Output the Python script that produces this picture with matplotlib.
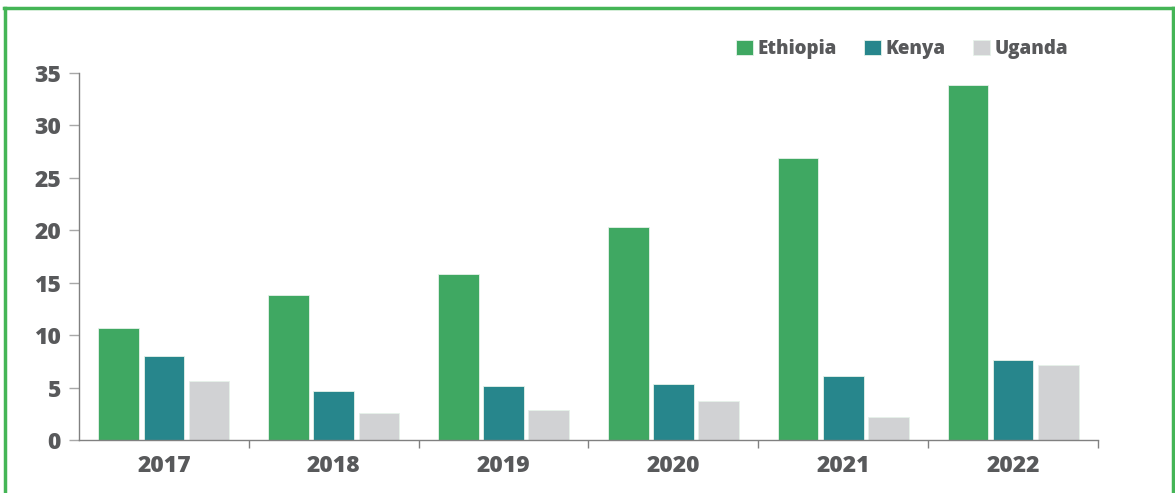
import numpy as np
import matplotlib
import matplotlib.pyplot as plt
from matplotlib.lines import Line2D

matplotlib.use('Agg')

years = ['2017', '2018', '2019', '2020', '2021', '2022']
ethiopia = [10.7, 13.8, 15.8, 20.3, 26.9, 33.9]
kenya = [8.0, 4.7, 5.15, 5.3, 6.1, 7.6]
uganda = [5.6, 2.6, 2.9, 3.7, 2.2, 7.15]
series_names = ['Ethiopia', 'Kenya', 'Uganda']
colors = ['#3FA862', '#27868C', '#D1D2D4']

text_color = '#58595B'
axis_color = '#808080'

plt.rcParams['font.family'] = ['Open Sans', 'DejaVu Sans']

fig = plt.figure(figsize=(11.75, 4.93), dpi=100)
ax = fig.add_axes([79 / 1175, 1 - 440 / 493, (1098 - 79) / 1175, (440 - 73) / 493])

x = np.arange(len(years))
width = 0.24
step = 0.266
for i, (vals, name, col) in enumerate(zip([ethiopia, kenya, uganda], series_names, colors)):
    ax.bar(x + (i - 1) * step, vals, width, color=col, label=name,
           edgecolor='#E6F2EA', linewidth=0.6)

ax.set_xlim(-0.5, len(years) - 0.5)
ax.set_ylim(0, 35)
ax.set_yticks(range(0, 36, 5))
ax.set_yticklabels([str(v) for v in range(0, 36, 5)], fontsize=16.5, fontweight=800,
                   color=text_color)
ax.set_xticks(x)
ax.set_xticklabels(years, fontsize=16.5, fontweight=800, color=text_color)
ax.tick_params(axis='x', length=0, pad=10)
ax.tick_params(axis='y', length=7, width=1, color='#A8A8A8', pad=6)
ax.set_xticks(np.arange(0.5, len(years) - 0.4, 1.0), minor=True)
ax.tick_params(axis='x', which='minor', length=6, width=1, color=axis_color)

for s in ['top', 'right']:
    ax.spines[s].set_visible(False)
for s in ['left', 'bottom']:
    ax.spines[s].set_color(axis_color)
    ax.spines[s].set_linewidth(1)

leg = ax.legend(loc='upper right', bbox_to_anchor=(1085 / 1175, 1 - 22 / 493),
                bbox_transform=fig.transFigure, ncol=3, frameon=False,
                handlelength=0.9, handleheight=0.9, handletextpad=0.25,
                columnspacing=1.45, prop={'size': 13.5, 'weight': 800})
for t in leg.get_texts():
    t.set_color(text_color)

# green frame around the figure (no bottom edge)
green = '#44B556'
fig.add_artist(Line2D([5 / 1175, 5 / 1175], [0, 1 - 8 / 493], color=green, lw=2.5,
                      transform=fig.transFigure))
fig.add_artist(Line2D([1173 / 1175, 1173 / 1175], [0, 1 - 8 / 493], color=green, lw=2.5,
                      transform=fig.transFigure))
fig.add_artist(Line2D([4 / 1175, 1174 / 1175], [1 - 8 / 493, 1 - 8 / 493], color=green,
                      lw=2.5, transform=fig.transFigure))

fig.savefig('out.png', dpi=100)
